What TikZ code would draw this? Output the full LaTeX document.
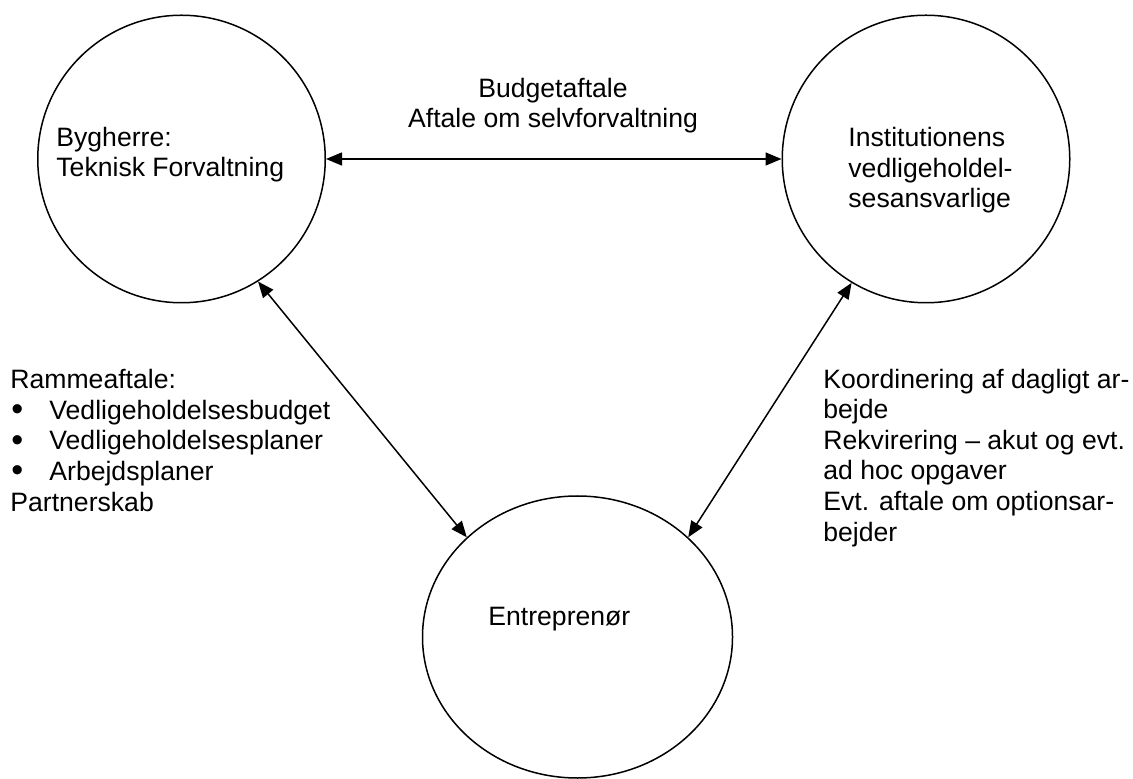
\documentclass[tikz,border=0pt]{standalone}
\usepackage{fontspec}
\setmainfont{Liberation Sans}
\usetikzlibrary{arrows.meta,shapes.geometric}
\newcommand{\listbul}{\hspace*{0.5pt}\makebox[19pt][l]{\raisebox{-0.8pt}{\fontsize{17}{15}\selectfont\textbullet}}}

\begin{document}
\begin{tikzpicture}[
  x=0.5pt, y=-0.5pt,
  font=\fontsize{13.3}{15.3}\selectfont,
  party/.style={draw, circle, minimum size=143.75pt, inner sep=0pt, line width=0.75pt},
  txt/.style={inner sep=0pt, align=left, anchor=base west},
  >={Triangle[length=8pt,width=6.5pt]},
  arrline/.style={<->, line width=0.75pt},
]
\useasboundingbox (0,0) rectangle (1133,779);
% the three parties (text nodes sit on the baseline of their last line)
\node[party] (byg) at (181.5,159) {};
\node[party] (inst) at (926,159) {};
\node[party, ellipse, minimum width=155pt, minimum height=141pt] (ent) at (577.5,637) {};
\node[txt] (bygtxt) at (56,177) {Bygherre:\\Teknisk Forvaltning};
\node[txt] (insttxt) at (848,208) {Institutionens\\vedligeholdel-\\sesansvarlige};
\node[txt] (enttxt) at (488,625) {Entreprenør};
% agreements between them
\node[inner sep=0pt, align=center, anchor=base] (budget) at (553,128) {Budgetaftale\\Aftale om selvforvaltning};
\node[txt] (ramme) at (10,511) {Rammeaftale:\\
  \listbul Vedligeholdelsesbudget\\
  \listbul Vedligeholdelsesplaner\\
  \listbul Arbejdsplaner\\
  Partnerskab};
\node[txt] (koord) at (823,541) {Koordinering af dagligt ar-\\bejde\\
  Rekvirering – akut og evt.\\ad hoc opgaver\\
  Evt. aftale om optionsar-\\bejder};
\draw[arrline] (byg.east) -- (inst.west);
\draw[arrline] (byg.-58.7) -- (ent.138);
\draw[arrline] (inst.239) -- (ent.42);
\end{tikzpicture}
\end{document}
